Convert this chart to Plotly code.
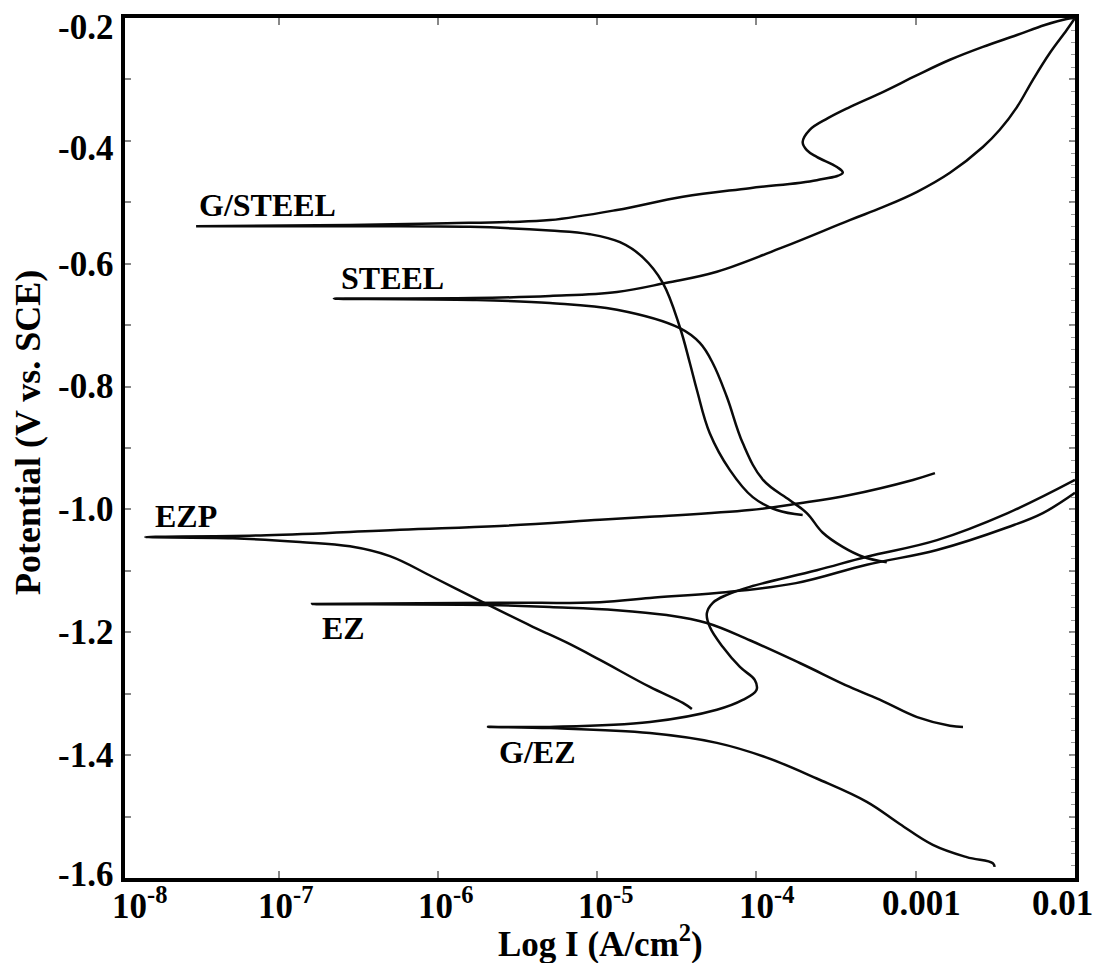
import math
import plotly.graph_objects as go

# ---------------- data (current density A/cm2, potential V vs SCE) ----------------
G_STEEL_I = [1.95e-4, 1.34e-4, 9.48e-5, 6.81e-5, 5.09e-5, 4.23e-5, 3.82e-5, 3.3e-5, 2.58e-5,
             1.94e-5, 1.39e-5, 9.0e-6, 5.05e-6, 1.59e-6, 2.8e-7, 3.03e-8, 2.8e-7, 1.14e-6,
             2.71e-6, 5.05e-6, 1.33e-5, 3.45e-5, 9.08e-5, 2.39e-4, 3.48e-4, 3.2e-4, 2.39e-4,
             2.07e-4, 1.95e-4, 2.16e-4, 2.81e-4, 3.85e-4, 6.21e-4, 1.02e-3, 1.64e-3, 2.64e-3,
             4.32e-3, 6.46e-3, 8.87e-3, 1.0e-2]
G_STEEL_E = [-1.009, -1.001, -0.980, -0.936, -0.876, -0.806, -0.762, -0.703, -0.631,
             -0.590, -0.565, -0.552, -0.546, -0.540, -0.539, -0.539, -0.537, -0.534,
             -0.532, -0.529, -0.5125, -0.491, -0.477, -0.464, -0.452, -0.4425, -0.426,
             -0.415, -0.402, -0.382, -0.363, -0.345, -0.3205, -0.293, -0.268, -0.247,
             -0.2277, -0.2114, -0.2016, -0.200]

STEEL_I = [6.58e-4, 4.66e-4, 3.48e-4, 2.61e-4, 2.07e-4, 1.62e-4, 1.1e-4, 8.2e-5, 6.52e-5,
           5.32e-5, 4.41e-5, 3.3e-5, 1.33e-5, 5.05e-6, 1.66e-6, 2.22e-7, 1.66e-6, 5.05e-6,
           1.33e-5, 2.73e-5, 5.64e-5, 1.47e-4, 3.85e-4, 6.21e-4, 1.02e-3, 1.64e-3, 2.64e-3,
           3.37e-3, 4.32e-3, 5.43e-3, 6.95e-3, 8.87e-3, 1.0e-2]
STEEL_E = [-1.086, -1.077, -1.061, -1.038, -1.006, -0.985, -0.952, -0.892, -0.817,
           -0.762, -0.729, -0.705, -0.675, -0.664, -0.659, -0.657, -0.656, -0.6525,
           -0.646, -0.631, -0.613, -0.573, -0.529, -0.508, -0.483, -0.452, -0.410,
           -0.382, -0.345, -0.301, -0.257, -0.2195, -0.200]

EZP_I = [3.93e-5, 3.45e-5, 2.14e-5, 1.04e-5, 6.46e-6, 3.94e-6, 1.91e-6, 9.29e-7, 4.99e-7,
         2.8e-7, 1.36e-7, 5.16e-8, 1.45e-8, 8.4e-8, 5.77e-7, 2.45e-6, 1.04e-5, 2.14e-5,
         9.08e-5, 1.87e-4, 3.85e-4, 9.6e-4, 1.32e-3]
EZP_E = [-1.325, -1.315, -1.289, -1.245, -1.217, -1.191, -1.151, -1.110, -1.076,
         -1.060, -1.053, -1.047, -1.045, -1.042, -1.033, -1.027, -1.017, -1.012,
         -1.001, -0.990, -0.9765, -0.952, -0.941]

EZ_I = [1.98e-3, 1.64e-3, 1.02e-3, 6.21e-4, 3.85e-4, 1.87e-4, 9.08e-5, 4.88e-5, 2.73e-5,
        1.33e-5, 5.05e-6, 2.45e-6, 1.62e-7, 2.45e-6, 1.04e-5, 2.14e-5, 5.64e-5, 1.77e-4,
        4.93e-4, 1.36e-3, 3.78e-3, 6.28e-3, 1.0e-2]
EZ_E = [-1.354, -1.352, -1.338, -1.312, -1.289, -1.250, -1.213, -1.185, -1.172,
        -1.164, -1.159, -1.156, -1.154, -1.152, -1.151, -1.144, -1.136, -1.120,
        -1.090, -1.066, -1.029, -1.006, -0.973]

G_EZ_I = [3.13e-3, 3.05e-3, 2.09e-3, 1.28e-3, 7.94e-4, 4.93e-4, 2.39e-4, 1.16e-4, 5.64e-5,
          2.14e-5, 5.05e-6, 2.06e-6, 5.05e-6, 2.14e-5, 5.64e-5, 8.2e-5, 1.0e-4, 9.77e-5,
          7.87e-5, 6.15e-5, 5.09e-5, 4.88e-5, 5.32e-5, 6.52e-5, 9.08e-5, 2.39e-4, 4.93e-4,
          1.36e-3, 3.78e-3, 1.0e-2]
G_EZ_E = [-1.582, -1.576, -1.566, -1.546, -1.512, -1.476, -1.438, -1.404, -1.380,
          -1.364, -1.356, -1.354, -1.354, -1.346, -1.326, -1.310, -1.294, -1.278,
          -1.2565, -1.224, -1.191, -1.169, -1.152, -1.139, -1.126, -1.099, -1.077,
          -1.050, -1.006, -0.952]

SERIES = [
    ("G/STEEL", G_STEEL_I, G_STEEL_E),
    ("STEEL", STEEL_I, STEEL_E),
    ("EZP", EZP_I, EZP_E),
    ("EZ", EZ_I, EZ_E),
    ("G/EZ", G_EZ_I, G_EZ_E),
]

# curve labels: (text, current at left edge of text, potential at text middle)
LABELS = [
    ("G/STEEL", 3.07e-8, -0.504),
    ("STEEL", 2.39e-7, -0.623),
    ("EZP", 1.63e-8, -1.011),
    ("EZ", 1.82e-7, -1.193),
    ("G/EZ", 2.35e-6, -1.395),
]

X_TICK_VALUES = [1e-8, 1e-7, 1e-6, 1e-5, 1e-4, 1e-3, 1e-2]
X_TICK_TEXT = ["10<sup>-8</sup>", "10<sup>-7</sup>", "10<sup>-6</sup>", "10<sup>-5</sup>",
               "10<sup>-4</sup>", "0.001", "0.01"]
X_TICK_SHIFT = [20, 7, 8, 8, 10, 6, -13]

Y_TICK_VALUES = [-0.2, -0.4, -0.6, -0.8, -1.0, -1.2, -1.4, -1.6]
Y_TICK_TEXT = ["-0.2", "-0.4", "-0.6", "-0.8", "-1.0", "-1.2", "-1.4", "-1.6"]
Y_TICK_SHIFT = [-9, -8, -1, 0, 0, 0, 0, 4]

X_RANGE_LOG = [-7.965, -2.0]
Y_RANGE = [-1.6, -0.2]

FONT = "Liberation Serif, Times New Roman, serif"

fig = go.Figure()
for name, I, E in SERIES:
    fig.add_trace(go.Scatter(
        x=I, y=E, mode="lines", name=name, showlegend=False,
        line=dict(color="#0a0a0a", width=2.5, shape="spline", smoothing=1.1),
    ))

# helper trace so the right-hand minor-tick axis is rendered
fig.add_trace(go.Scatter(x=[1e-3], y=[-0.9], yaxis="y2", showlegend=False,
                         hoverinfo="skip", mode="markers", marker=dict(opacity=0)))


def xpaper(v):
    """position of a current value as a fraction of the log x-axis"""
    return (math.log10(v) - X_RANGE_LOG[0]) / (X_RANGE_LOG[1] - X_RANGE_LOG[0])


annotations = []
for text, i0, e0 in LABELS:
    annotations.append(dict(
        x=math.log10(i0), y=e0, xref="x", yref="y", text="<b>%s</b>" % text,
        showarrow=False, xanchor="left", yanchor="middle",
        font=dict(family=FONT, size=32, color="black"),
    ))

for v, t, s in zip(X_TICK_VALUES, X_TICK_TEXT, X_TICK_SHIFT):
    annotations.append(dict(
        x=xpaper(v), y=0, xref="paper", yref="paper", text="<b>%s</b>" % t,
        showarrow=False, xanchor="center", yanchor="middle", xshift=s, yshift=-25,
        font=dict(family=FONT, size=35, color="black"),
    ))

for v, t, s in zip(Y_TICK_VALUES, Y_TICK_TEXT, Y_TICK_SHIFT):
    annotations.append(dict(
        x=0, y=v, xref="paper", yref="y", text="<b>%s</b>" % t,
        showarrow=False, xanchor="right", yanchor="middle", xshift=-10, yshift=s,
        font=dict(family=FONT, size=35, color="black"),
    ))

annotations.append(dict(
    x=0.5, y=0, xref="paper", yref="paper", text="<b>Log I (A/cm<sup>2</sup>)</b>",
    showarrow=False, xanchor="center", yanchor="middle", yshift=-63,
    font=dict(family=FONT, size=35, color="black"),
))
annotations.append(dict(
    x=0, y=0.5, xref="paper", yref="paper", text="<b>Potential (V vs. SCE)</b>",
    showarrow=False, xanchor="center", yanchor="middle", xshift=-97, yshift=15,
    textangle=-90, font=dict(family=FONT, size=36, color="black"),
))

fig.update_layout(
    width=1101, height=963,
    margin=dict(l=125, r=26, t=18, b=85),
    paper_bgcolor="white", plot_bgcolor="white",
    showlegend=False,
    xaxis=dict(
        type="log", range=X_RANGE_LOG, showgrid=False, zeroline=False,
        showline=True, linewidth=4, linecolor="black", mirror="ticks",
        ticks="inside", ticklen=7, tickwidth=1.5, tickcolor="#888888",
        tickvals=X_TICK_VALUES, showticklabels=False,
    ),
    yaxis=dict(
        range=Y_RANGE, showgrid=False, zeroline=False,
        showline=True, linewidth=4, linecolor="black", mirror="ticks",
        ticks="inside", ticklen=6, tickwidth=1.5, tickcolor="#888888",
        tick0=-0.2, dtick=0.1, showticklabels=False,
    ),
    yaxis2=dict(
        overlaying="y", side="right", anchor="x", range=Y_RANGE,
        showgrid=False, zeroline=False, showline=False,
        ticks="inside", ticklen=4, tickwidth=1, tickcolor="#999999",
        tick0=-0.2, dtick=0.02, showticklabels=False,
    ),
    annotations=annotations,
)

fig.write_html("out.html")
